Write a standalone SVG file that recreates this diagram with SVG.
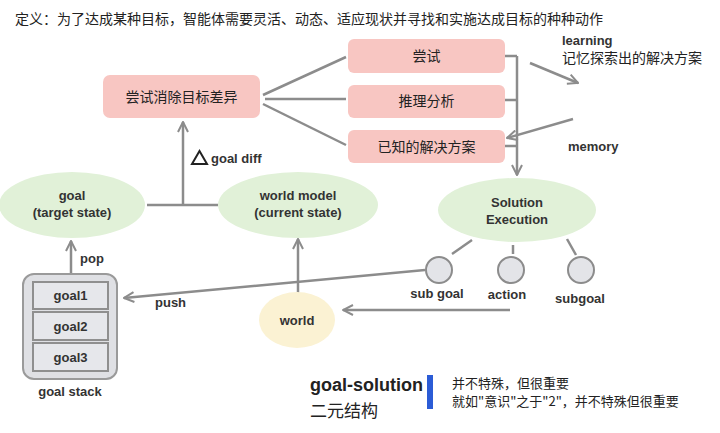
<svg xmlns="http://www.w3.org/2000/svg" width="720" height="433" viewBox="0 0 720 433">
<defs>
<marker id="arr" viewBox="0 0 12 12" refX="11" refY="6" markerWidth="12" markerHeight="12" markerUnits="userSpaceOnUse" orient="auto">
<path d="M1,1 L11,6 L1,11" fill="none" stroke="#8c8c8c" stroke-width="2"/>
</marker>
<style>
.cn{font-family:"Noto Sans CJK SC","Liberation Serif",serif;fill:#222}
.lb{font-family:"Liberation Sans",Arial,sans-serif;font-weight:bold;font-size:13px;fill:#333}
.pink{fill:#f8c6c2}
.green{fill:#e1f1d8}
.ln{stroke:#8c8c8c;stroke-width:2.5;fill:none}
.sm{fill:#e3e4e8;stroke:#8c8c8c;stroke-width:2}
</style>
</defs>
<rect width="720" height="433" fill="#fff"/>
<text class="cn" x="15" y="24" font-size="14">定义：为了达成某种目标，智能体需要灵活、动态、适应现状并寻找和实施达成目标的种种动作</text>

<g id="connectors">
<path class="ln" d="M263,95 L346,57"/>
<path class="ln" d="M265,99 L346,99"/>
<path class="ln" d="M263,104 L346,145"/>
<path class="ln" d="M505,56 H517 M505,100 H517 M505,146 H517"/>
<path class="ln" d="M517,56 V175" marker-end="url(#arr)"/>
<path class="ln" d="M530,63 L578,83" marker-end="url(#arr)"/>
<path class="ln" d="M573,119 L507,138" marker-end="url(#arr)"/>
<path class="ln" d="M147,205 H218"/>
<path class="ln" d="M183,205 V122" marker-end="url(#arr)"/>
<path class="ln" d="M472,240 L452,254"/>
<path class="ln" d="M513,245 V254"/>
<path class="ln" d="M567,239 L576,255"/>
<path class="ln" d="M425,270 L124,298" marker-end="url(#arr)"/>
<path class="ln" d="M298,293 V239" marker-end="url(#arr)"/>
<path class="ln" d="M510,310 H343" marker-end="url(#arr)"/>
<path class="ln" d="M71,274 V241" marker-end="url(#arr)"/>
</g>

<g id="eliminate">
<rect class="pink" x="103" y="75" width="157" height="43" rx="7"/>
<text class="cn" x="181.5" y="102" font-size="14" text-anchor="middle">尝试消除目标差异</text>
</g>
<g id="try">
<rect class="pink" x="348" y="39" width="157" height="34" rx="6"/>
<text class="cn" x="426.5" y="61" font-size="14" text-anchor="middle">尝试</text>
</g>
<g id="reason">
<rect class="pink" x="348" y="85" width="157" height="33" rx="6"/>
<text class="cn" x="426.5" y="106" font-size="14" text-anchor="middle">推理分析</text>
</g>
<g id="known">
<rect class="pink" x="348" y="130" width="157" height="33" rx="6"/>
<text class="cn" x="426.5" y="152" font-size="14" text-anchor="middle">已知的解决方案</text>
</g>

<g id="learning">
<text class="lb" x="562" y="45">learning</text>
<text class="cn" x="562" y="63" font-size="14">记忆探索出的解决方案</text>
</g>
<g id="memory">
<text class="lb" x="568" y="151">memory</text>
</g>
<g id="goaldiff">
<path d="M192,164 L199.5,151 L207,164 Z" fill="none" stroke="#222" stroke-width="2"/>
<text class="lb" x="211" y="163">goal diff</text>
</g>

<g id="goal">
<ellipse class="green" cx="72" cy="205" rx="73" ry="33"/>
<text class="lb" x="72" y="200" text-anchor="middle">goal</text>
<text class="lb" x="72" y="217" text-anchor="middle">(target state)</text>
</g>
<g id="worldmodel">
<ellipse class="green" cx="298" cy="205" rx="80" ry="33"/>
<text class="lb" x="298" y="200" text-anchor="middle">world model</text>
<text class="lb" x="298" y="217" text-anchor="middle">(current state)</text>
</g>
<g id="solution">
<ellipse class="green" cx="517" cy="210" rx="79" ry="32"/>
<text class="lb" x="517" y="207" text-anchor="middle">Solution</text>
<text class="lb" x="517" y="224" text-anchor="middle">Execution</text>
</g>

<g id="subgoal1">
<circle class="sm" cx="439" cy="270" r="13"/>
<text class="lb" x="437" y="298" text-anchor="middle">sub goal</text>
</g>
<g id="action">
<circle class="sm" cx="511" cy="270" r="13"/>
<text class="lb" x="507" y="299" text-anchor="middle">action</text>
</g>
<g id="subgoal2">
<circle class="sm" cx="581" cy="270" r="13"/>
<text class="lb" x="580" y="303" text-anchor="middle">subgoal</text>
</g>

<g id="world">
<ellipse cx="297" cy="320" rx="38" ry="28" fill="#fbf2d3"/>
<text class="lb" x="297" y="325" text-anchor="middle">world</text>
</g>

<g id="goalstack">
<rect x="23" y="274" width="94" height="105" rx="11" fill="#dfe0e4" stroke="#9a9a9a" stroke-width="2"/>
<rect x="33" y="282" width="75" height="27" fill="#e6e7eb" stroke="#8f8f8f" stroke-width="2"/>
<rect x="33" y="312" width="75" height="28" fill="#e6e7eb" stroke="#8f8f8f" stroke-width="2"/>
<rect x="33" y="343" width="75" height="28" fill="#e6e7eb" stroke="#8f8f8f" stroke-width="2"/>
<text class="lb" x="70.5" y="300" text-anchor="middle">goal1</text>
<text class="lb" x="70.5" y="331" text-anchor="middle">goal2</text>
<text class="lb" x="70.5" y="362" text-anchor="middle">goal3</text>
<text class="lb" x="70" y="396" text-anchor="middle">goal stack</text>
</g>
<text class="lb" x="80" y="263">pop</text>
<text class="lb" x="155" y="307">push</text>

<g id="note">
<text x="310" y="391" font-family="Liberation Sans,Arial,sans-serif" font-weight="bold" font-size="18" fill="#222">goal-solution</text>
<text class="cn" x="310" y="417" font-size="17">二元结构</text>
<rect x="427" y="375" width="6" height="34" fill="#2b5cd6"/>
<text class="cn" x="452" y="388" font-size="13">并不特殊，但很重要</text>
<text class="cn" x="452" y="406" font-size="13">就如"意识"之于"2"，并不特殊但很重要</text>
</g>
</svg>
